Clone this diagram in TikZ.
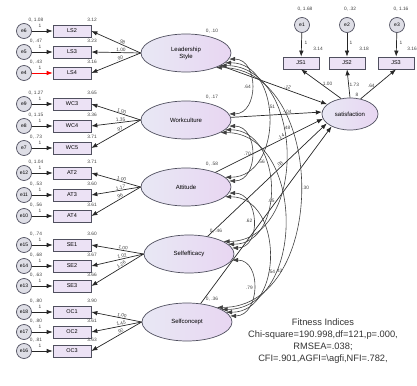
\documentclass[tikz,border=0pt]{standalone}
\usepackage{fontspec}
\setmainfont{Liberation Sans}
\usetikzlibrary{arrows.meta,shapes.geometric}
\definecolor{boxfill}{RGB}{236,226,245}
\definecolor{errfill}{RGB}{222,222,230}
\definecolor{latL}{RGB}{232,232,244}
\definecolor{latR}{RGB}{232,214,242}
\definecolor{edge}{RGB}{80,80,95}
\begin{document}
\begin{tikzpicture}[x=1pt,y=-1pt,
  indb/.style={draw=edge,fill=boxfill,minimum width=38pt,minimum height=12pt,inner sep=0pt,line width=0.7pt,font=\fontsize{5.5}{6}\selectfont},
  errc/.style={circle,draw=edge,fill=errfill,minimum size=15pt,inner sep=0pt,line width=0.7pt,font=\fontsize{5}{5}\selectfont},
  lat/.style={ellipse,draw=edge,left color=latL,right color=latR,minimum width=90pt,minimum height=38pt,inner sep=0pt,line width=0.7pt,align=center,font=\fontsize{6}{7}\selectfont},
  lab/.style={font=\fontsize{4.8}{5}\selectfont,inner sep=0.6pt,text=black!75},
  arr/.style={-{Latex[length=6pt,width=4.5pt]},line width=0.7pt,draw=black!85},
  cov/.style={{Latex[length=6pt,width=4.5pt]}-{Latex[length=6pt,width=4.5pt]},line width=0.6pt,draw=black!75}]
\path[use as bounding box] (0,0) rectangle (417,385);

\newcommand\indrow[8]{%
  \node[errc] (#1) at (24,#3) {#1};
  \node[indb] (#2) at (72,#3) {#2};
  \draw[arr,draw=#8] (#1) -- (#2);
  \draw[arr] (#6.west) -- node[lab,pos=0.4,above,sloped]{#7} (#2.east);
  \node[lab] at (36,#3-11) {#4};
  \node[lab] at (92,#3-11) {#5};
  \node[lab] at (40,#3-5) {1};
}

% latent variables
\node[lat] (ls) at (186,53) {Leadership\\Style};
\node[lat] (wc) at (186,120) {Workculture};
\node[lat] (at) at (186,187) {Attitude};
\node[lat] (se) at (189,254) {Selfefficacy};
\node[lat] (sc) at (187,322) {Selfconcept};
\node[lab] at (212,31) {0, .10};
\node[lab] at (212,97) {0, .17};
\node[lab] at (212,164) {0, .58};
\node[lab] at (216,231) {0, .46};
\node[lab] at (212,299) {0, .36};

% measurement rows
\indrow{e6}{LS2}{31}{0, 1.08}{3.12}{ls}{.98}{black!85}
\indrow{e5}{LS3}{52}{0, .47}{3.23}{ls}{1.00}{black!85}
\indrow{e4}{LS4}{73}{0, .43}{3.16}{ls}{.90}{red}
\indrow{e9}{WC3}{104}{0, 1.27}{3.65}{wc}{1.00}{black!85}
\indrow{e8}{WC4}{126}{0, 1.15}{3.36}{wc}{1.35}{black!85}
\indrow{e7}{WC5}{148}{0, .73}{3.71}{wc}{.97}{black!85}
\indrow{e12}{AT2}{173}{0, 1.04}{3.71}{at}{1.00}{black!85}
\indrow{e11}{AT3}{195}{0, .53}{3.60}{at}{1.17}{black!85}
\indrow{e10}{AT4}{216}{0, .56}{3.61}{at}{.96}{black!85}
\indrow{e15}{SE1}{245}{0, .74}{3.60}{se}{1.00}{black!85}
\indrow{e14}{SE2}{266}{0, .68}{3.67}{se}{1.02}{black!85}
\indrow{e13}{SE3}{286}{0, .63}{3.66}{se}{1.26}{black!85}
\indrow{e18}{OC1}{312}{0, .80}{3.90}{sc}{1.00}{black!85}
\indrow{e17}{OC2}{332}{0, .80}{3.61}{sc}{1.45}{black!85}
\indrow{e16}{OC3}{351}{0, .81}{3.63}{sc}{.92}{black!85}

% satisfaction block
\node[lat,minimum width=56pt,minimum height=32pt] (sat) at (350,114) {satisfaction};
\node[indb,minimum width=36pt] (JS1) at (301,63) {JS1};
\node[indb,minimum width=36pt] (JS2) at (347,63) {JS2};
\node[indb,minimum width=36pt] (JS3) at (396,63) {JS3};
\node[errc] (e1) at (302,25) {e1};
\node[errc] (e2) at (347,25) {e2};
\node[errc] (e3) at (397,25) {e3};
\draw[arr] (e1) -- (JS1);
\draw[arr] (e2) -- (JS2);
\draw[arr] (e3) -- (JS3);
\node[lab] at (305,9) {0, 1.68};
\node[lab] at (350,9) {0, .32};
\node[lab] at (401,9) {0, 1.16};
\node[lab] at (306,43) {1};
\node[lab] at (351,43) {1};
\node[lab] at (401,43) {1};
\node[lab] at (318,49) {3.14};
\node[lab] at (364,49) {3.18};
\node[lab] at (412,49) {3.16};
\draw[arr] (sat.120) -- node[lab,pos=0.5,right=1pt]{1.00} (JS1.south);
\draw[arr] (sat.90) -- node[lab,pos=0.45,right]{1.73} (JS2.south);
\draw[arr] (sat.55) -- node[lab,pos=0.45,left=1pt]{.64} (JS3.south);
\node[lab] at (357,95) {8};

% structural paths
\draw[arr] (ls) -- node[lab,pos=0.62,above,sloped]{.12} (sat.157);
\draw[arr] (wc) -- node[lab,pos=0.62,above]{-.04} (sat.176);
\draw[arr] (at) -- node[lab,pos=0.62,above,sloped]{.14} (sat.190);
\draw[arr] (se) -- node[lab,pos=0.62,above,sloped]{.08} (sat.202);
\draw[arr] (sc) -- node[lab,pos=0.58,left=1pt]{.05} (sat.214);

% covariances
\draw[cov] (ls.-8) .. controls +(30,0) and +(30,0) .. node[lab,pos=.5,left]{.64} (wc.8);
\draw[cov] (wc.-8) .. controls +(30,0) and +(30,0) .. node[lab,pos=.5,left]{.70} (at.8);
\draw[cov] (at.-8) .. controls +(30,0) and +(30,0) .. node[lab,pos=.5,left]{.62} (se.8);
\draw[cov] (se.-8) .. controls +(30,0) and +(30,0) .. node[lab,pos=.5,left]{.79} (sc.8);
\draw[cov] (ls.-14) .. controls +(58,0) and +(58,0) .. node[lab,pos=.42,right]{.51} (at.14);
\draw[cov] (wc.-14) .. controls +(58,0) and +(58,0) .. node[lab,pos=.35,left]{.56} (se.14);
\draw[cov] (at.-14) .. controls +(58,0) and +(58,0) .. node[lab,pos=.6,right]{.54} (sc.14);
\draw[cov] (ls.-20) .. controls +(85,0) and +(85,0) .. node[lab,pos=.4,right]{.48} (se.20);
\draw[cov] (wc.-20) .. controls +(85,0) and +(85,0) .. node[lab,pos=.7,right]{.43} (sc.20);
\draw[cov] (ls.-26) .. controls +(112,0) and +(112,0) .. node[lab,pos=.5,right=1pt]{.30} (sc.26);

% fit indices
\node[align=center,font=\fontsize{9.3}{12}\selectfont,text=black!80] (fit) at (323,341)
 {Fitness Indices\\Chi-square=190.998,df=121,p=.000,\\RMSEA=.038;\\CFI=.901,AGFI=\textbackslash agfi,NFI=.782,};
\end{tikzpicture}
\end{document}
